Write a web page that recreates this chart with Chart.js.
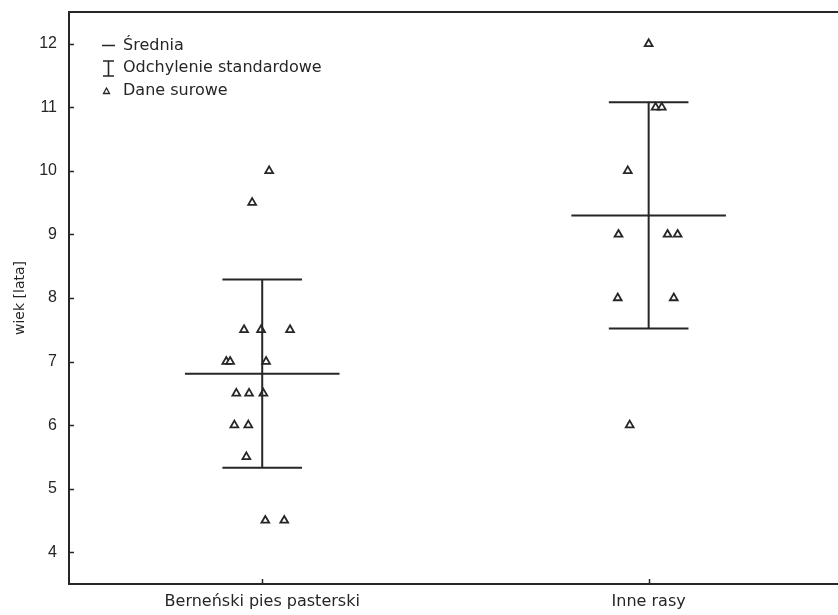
<!DOCTYPE html>
<html>
<head>
<meta charset="utf-8">
<script src="https://cdn.jsdelivr.net/npm/chart.js@4.4.1/dist/chart.umd.min.js"></script>
<style>
  html, body { margin: 0; padding: 0; background: #fff; }
  #wrap { width: 838px; height: 615px; position: relative; }
</style>
</head>
<body>
<div id="wrap"><canvas id="c" width="838" height="615"></canvas></div>
<script>
// ---- data ----
const categories = ['Berneński pies pasterski', 'Inne rasy'];
const yTicks = [4, 5, 6, 7, 8, 9, 10, 11, 12];
const legendLabels = ['Średnia', 'Odchylenie standardowe', 'Dane surowe'];
const yTitle = 'wiek [lata]';

// raw data (wiek) and horizontal jitter of each point
const bernValues = [10, 9.5, 7.5, 7.5, 7.5, 7, 7, 7, 6.5, 6.5, 6.5, 6, 6, 5.5, 4.5, 4.5];
const bernJitter = [0.018, -0.026, -0.047, -0.003, 0.072, -0.093, -0.083, 0.010, -0.067, -0.034, 0.003, -0.072, -0.036, -0.041, 0.008, 0.057];
const otherValues = [12, 11, 11, 10, 9, 9, 9, 8, 8, 6];
const otherJitter = [0.000, 0.018, 0.034, -0.054, -0.078, 0.049, 0.075, -0.080, 0.065, -0.049];

const means = [6.81, 9.30];
const sds = [1.48, 1.78];

// ---- styles ----
const INK = '#262626';
const FONT = '"Liberation Sans", Arial, sans-serif';
const WIDE = '"DejaVu Sans", sans-serif';
const MEAN_HALF = 0.2;
const CAP_HALF = 0.103;

const rawSets = [bernValues, otherValues];
const jitters = [bernJitter, otherJitter];

const datasets = [];
rawSets.forEach((vals, ci) => {
  const m = means[ci], s = sds[ci];
  const lineStyle = { type: 'scatter', showLine: true, borderColor: INK, borderWidth: 2, pointRadius: 0, pointHoverRadius: 0, fill: false };
  datasets.push(Object.assign({ data: [{ x: ci - MEAN_HALF, y: m }, { x: ci + MEAN_HALF, y: m }] }, lineStyle));
  datasets.push(Object.assign({ data: [{ x: ci, y: m - s }, { x: ci, y: m + s }] }, lineStyle));
  datasets.push(Object.assign({ data: [{ x: ci - CAP_HALF, y: m + s }, { x: ci + CAP_HALF, y: m + s }] }, lineStyle));
  datasets.push(Object.assign({ data: [{ x: ci - CAP_HALF, y: m - s }, { x: ci + CAP_HALF, y: m - s }] }, lineStyle));
  datasets.push({
    type: 'scatter',
    data: vals.map((v, i) => ({ x: ci + jitters[ci][i], y: v })),
    pointStyle: 'triangle',
    radius: 4.5,
    borderWidth: 1.8,
    borderColor: INK,
    backgroundColor: '#ffffff',
    showLine: false
  });
});

const framePlugin = {
  id: 'frame',
  afterDraw(chart) {
    const ctx = chart.ctx;
    const a = chart.chartArea;
    const xs = chart.scales.x, ys = chart.scales.y;
    ctx.save();
    ctx.strokeStyle = INK;
    ctx.lineWidth = 2;
    // top border
    ctx.beginPath();
    ctx.moveTo(a.left, a.top);
    ctx.lineTo(a.right, a.top);
    ctx.stroke();
    // inward ticks
    ctx.lineWidth = 1.5;
    yTicks.forEach(v => {
      const py = Math.round(ys.getPixelForValue(v)) + 0.5;
      ctx.beginPath();
      ctx.moveTo(a.left, py);
      ctx.lineTo(a.left + 5, py);
      ctx.stroke();
    });
    categories.forEach((c, i) => {
      const px = Math.round(xs.getPixelForValue(i)) + 0.5;
      ctx.beginPath();
      ctx.moveTo(px, a.bottom);
      ctx.lineTo(px, a.bottom - 5);
      ctx.stroke();
    });
    // legend
    const lx = 102, tx = 123;
    const rows = [45.5, 68, 90.5];
    ctx.fillStyle = INK;
    ctx.font = '16px ' + WIDE;
    ctx.textBaseline = 'middle';
    ctx.textAlign = 'left';
    legendLabels.forEach((t, i) => ctx.fillText(t, tx, rows[i]));
    ctx.lineWidth = 1.6;
    ctx.beginPath();
    ctx.moveTo(lx, rows[0]); ctx.lineTo(lx + 13, rows[0]);
    ctx.moveTo(lx + 6.5, rows[1] - 7); ctx.lineTo(lx + 6.5, rows[1] + 8);
    ctx.moveTo(lx + 1, rows[1] - 7); ctx.lineTo(lx + 12, rows[1] - 7);
    ctx.moveTo(lx + 1, rows[1] + 8); ctx.lineTo(lx + 12, rows[1] + 8);
    ctx.stroke();
    ctx.lineWidth = 1.3;
    ctx.beginPath();
    const cx = lx + 4.5, cy = rows[2] + 0.5;
    ctx.moveTo(cx, cy - 3); ctx.lineTo(cx + 3, cy + 2.5); ctx.lineTo(cx - 3, cy + 2.5); ctx.closePath();
    ctx.stroke();
    ctx.restore();
  }
};

new Chart(document.getElementById('c'), {
  type: 'scatter',
  data: { datasets },
  options: {
    responsive: false,
    animation: false,
    layout: { autoPadding: false, padding: { top: 12, right: 0, left: 0, bottom: 0 } },
    plugins: { legend: { display: false }, tooltip: { enabled: false } },
    scales: {
      x: {
        type: 'linear',
        min: -0.5,
        max: 1.49,
        afterFit(s) { s.height = 31; s.paddingLeft = 0; s.paddingRight = 0; },
        afterBuildTicks(s) { s.ticks = categories.map((c, i) => ({ value: i })); },
        ticks: {
          autoSkip: false,
          maxRotation: 0,
          padding: 8,
          color: INK,
          font: { family: WIDE, size: 16 },
          callback: (v) => categories[v]
        },
        grid: { display: true, drawOnChartArea: false, drawTicks: false },
        border: { display: true, color: INK, width: 2 }
      },
      y: {
        min: 3.5,
        max: 12.5,
        afterFit(s) { s.width = 69; s.paddingTop = 0; s.paddingBottom = 0; },
        afterBuildTicks(s) { s.ticks = yTicks.map(v => ({ value: v })); },
        ticks: {
          padding: 12,
          color: INK,
          font: { family: FONT, size: 16 },
          callback: (v) => String(v)
        },
        grid: { display: true, drawOnChartArea: false, drawTicks: false },
        border: { display: true, color: INK, width: 2 },
        title: {
          display: true,
          text: yTitle,
          color: INK,
          font: { family: WIDE, size: 14 },
          padding: { top: 12, bottom: 0 }
        }
      }
    }
  },
  plugins: [framePlugin]
});
</script>
</body>
</html>
